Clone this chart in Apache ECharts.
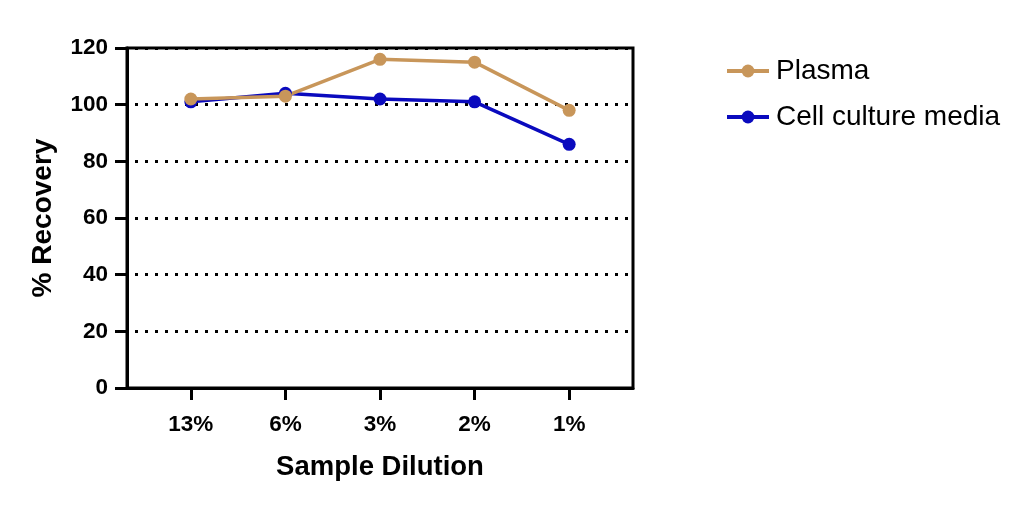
<!DOCTYPE html>
<html>
<head>
<meta charset="utf-8">
<script src="https://cdn.jsdelivr.net/npm/echarts@6/dist/echarts.min.js"></script>
<style>
  html, body { margin: 0; padding: 0; background: #fff; }
  #chart { width: 1031px; height: 507px; }
</style>
</head>
<body>
<div id="chart"></div>
<script>
// data
const categories = ['13%', '6%', '3%', '2%', '1%'];
const plasma = [102, 103, 116, 115, 98];
const cellMedia = [101, 104, 102, 101, 86];
const yTicks = [0, 20, 40, 60, 80, 100, 120];

const FONT = '"Liberation Sans", Arial, sans-serif';
const catIdx = categories.map((c, i) => i);

const chart = echarts.init(document.getElementById('chart'));
chart.setOption({
  backgroundColor: '#fff',
  animation: false,
  textStyle: { fontFamily: FONT },
  grid: { left: 127, right: 398, top: 48, bottom: 119, show: true, borderColor: '#000', borderWidth: 3, backgroundColor: 'transparent' },
  legend: {
    data: ['Plasma', 'Cell culture media'],
    orient: 'vertical',
    left: 720,
    top: 52,
    itemWidth: 42,
    itemHeight: 16,
    itemGap: 18,
    lineStyle: { width: 4 },
    textStyle: { fontSize: 28, color: '#000', fontFamily: FONT, padding: [0, 0, 0, 2] }
  },
  xAxis: {
    type: 'value',
    min: -0.675,
    max: 4.675,
    name: 'Sample Dilution',
    nameLocation: 'middle',
    nameGap: 65,
    nameTextStyle: { fontSize: 27.5, fontWeight: 'bold', color: '#000', fontFamily: FONT },
    axisLine: { show: true, onZero: false, lineStyle: { color: '#000', width: 3 } },
    axisTick: { show: true, length: 12, lineStyle: { color: '#000', width: 3 }, customValues: catIdx },
    axisLabel: {
      customValues: catIdx,
      margin: 25,
      fontSize: 22.5,
      fontWeight: 'bold',
      color: '#000',
      fontFamily: FONT,
      formatter: v => categories[Math.round(v)] || ''
    },
    splitLine: { show: false }
  },
  yAxis: {
    type: 'value',
    min: 0,
    max: 120,
    interval: 20,
    name: '% Recovery',
    nameLocation: 'middle',
    nameGap: 70,
    nameTextStyle: { fontSize: 28, fontWeight: 'bold', color: '#000', fontFamily: FONT },
    axisLine: { show: true, onZero: false, lineStyle: { color: '#000', width: 3 } },
    axisTick: { show: true, length: 12, lineStyle: { color: '#000', width: 3 } },
    axisLabel: {
      margin: 19,
      fontSize: 22.5,
      fontWeight: 'bold',
      color: '#000',
      fontFamily: FONT,
      formatter: v => yTicks.includes(v) ? String(v) : ''
    },
    splitLine: { show: true, lineStyle: { color: '#000', width: 3, type: [3, 7], dashOffset: -8 } }
  },
  series: [
    {
      name: 'Cell culture media',
      type: 'line',
      data: cellMedia.map((v, i) => [i, v]),
      symbol: 'circle',
      symbolSize: 13,
      lineStyle: { color: '#0a0abe', width: 3.5 },
      itemStyle: { color: '#0a0abe' }
    },
    {
      name: 'Plasma',
      type: 'line',
      data: plasma.map((v, i) => [i, v]),
      symbol: 'circle',
      symbolSize: 13,
      lineStyle: { color: '#c8965a', width: 3.5 },
      itemStyle: { color: '#c8965a' }
    }
  ]
});
</script>
</body>
</html>
